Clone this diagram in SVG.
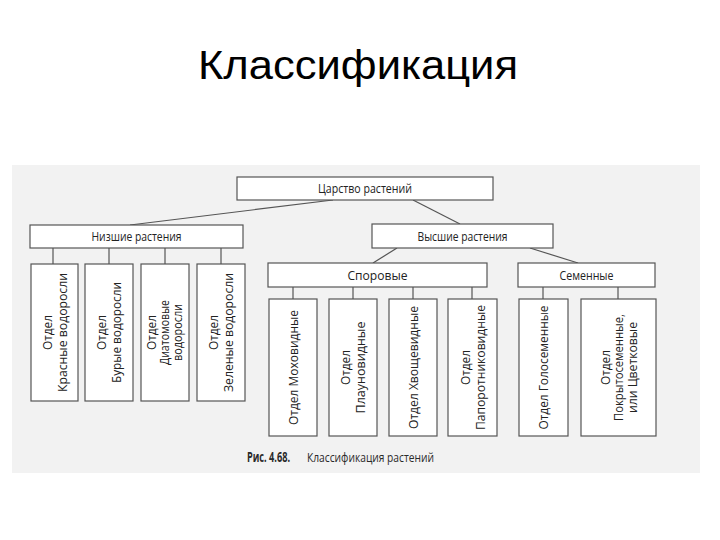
<svg xmlns="http://www.w3.org/2000/svg" width="720" height="540" viewBox="0 0 720 540">
<style>
.box{fill:#ffffff;stroke:#555555;stroke-width:1.2}
.ln{stroke:#555555;stroke-width:1.2;fill:none}
.t{font-family:"Open Sans","DejaVu Sans",sans-serif;font-size:13.5px;fill:#222222;text-anchor:middle}
.title{font-family:"Liberation Sans",Arial,sans-serif;font-size:40px;fill:#000000;text-anchor:middle}
.cap{font-family:"Open Sans","DejaVu Sans",sans-serif;font-size:13.5px;fill:#2a2a2a}
</style>
<rect width="720" height="540" fill="#ffffff"/>
<text class="title" x="358" y="79" textLength="320" lengthAdjust="spacingAndGlyphs">Классификация</text>
<rect x="12" y="165" width="688" height="308" fill="#f2f2f2"/>
<g id="connectors">
<line class="ln" x1="333" y1="200" x2="130" y2="225"/>
<line class="ln" x1="413" y1="200" x2="460" y2="224"/>
<line class="ln" x1="397" y1="248" x2="373" y2="263"/>
<line class="ln" x1="530" y1="248" x2="578" y2="263"/>
<line class="ln" x1="53" y1="248" x2="53" y2="264"/>
<line class="ln" x1="109" y1="248" x2="109" y2="264"/>
<line class="ln" x1="165" y1="248" x2="165" y2="264"/>
<line class="ln" x1="221" y1="248" x2="221" y2="264"/>
<line class="ln" x1="293" y1="287" x2="293" y2="299"/>
<line class="ln" x1="353" y1="287" x2="353" y2="299"/>
<line class="ln" x1="413" y1="287" x2="413" y2="299"/>
<line class="ln" x1="472" y1="287" x2="472" y2="299"/>
<line class="ln" x1="543" y1="287" x2="543" y2="299"/>
<line class="ln" x1="618" y1="287" x2="618" y2="299"/>
</g>
<g id="n-kingdom"><rect class="box" x="237" y="177" width="256" height="23"/><text class="t" x="365" y="193" textLength="94" lengthAdjust="spacingAndGlyphs">Царство растений</text></g>
<g id="n-lower"><rect class="box" x="30" y="225" width="213" height="23"/><text class="t" x="136.5" y="241" textLength="90" lengthAdjust="spacingAndGlyphs">Низшие растения</text></g>
<g id="n-higher"><rect class="box" x="372" y="224" width="181" height="24"/><text class="t" x="462.5" y="240.5" textLength="90" lengthAdjust="spacingAndGlyphs">Высшие растения</text></g>
<g id="n-spore"><rect class="box" x="268" y="263" width="219" height="24"/><text class="t" x="377.5" y="279.5" textLength="60" lengthAdjust="spacingAndGlyphs">Споровые</text></g>
<g id="n-seed"><rect class="box" x="518" y="263" width="137" height="24"/><text class="t" x="586.5" y="279.5" textLength="54" lengthAdjust="spacingAndGlyphs">Семенные</text></g>

<g id="n-red"><rect class="box" x="31" y="264" width="47" height="137"/><text class="t" transform="translate(54.5,332.5) rotate(-90)"><tspan x="0" y="-3" textLength="35" lengthAdjust="spacingAndGlyphs">Отдел</tspan><tspan x="0" y="12" textLength="119" lengthAdjust="spacingAndGlyphs">Красные водоросли</tspan></text></g>
<g id="n-brown"><rect class="box" x="85" y="264" width="48" height="137"/><text class="t" transform="translate(109,332.5) rotate(-90)"><tspan x="0" y="-3" textLength="35" lengthAdjust="spacingAndGlyphs">Отдел</tspan><tspan x="0" y="12" textLength="101" lengthAdjust="spacingAndGlyphs">Бурые водоросли</tspan></text></g>
<g id="n-diatom"><rect class="box" x="141" y="264" width="48" height="137"/><text class="t" transform="translate(165,332.5) rotate(-90)"><tspan x="0" y="-9" textLength="35" lengthAdjust="spacingAndGlyphs">Отдел</tspan><tspan x="0" y="4" textLength="65" lengthAdjust="spacingAndGlyphs">Диатомовые</tspan><tspan x="0" y="17" textLength="57" lengthAdjust="spacingAndGlyphs">водоросли</tspan></text></g>
<g id="n-green"><rect class="box" x="197" y="264" width="48" height="137"/><text class="t" transform="translate(221,332.5) rotate(-90)"><tspan x="0" y="-3" textLength="35" lengthAdjust="spacingAndGlyphs">Отдел</tspan><tspan x="0" y="12" textLength="119" lengthAdjust="spacingAndGlyphs">Зеленые водоросли</tspan></text></g>

<g id="n-moss"><rect class="box" x="269" y="299" width="48" height="137"/><text class="t" transform="translate(293,367.5) rotate(-90)"><tspan x="0" y="4.5" textLength="115" lengthAdjust="spacingAndGlyphs">Отдел Моховидные</tspan></text></g>
<g id="n-club"><rect class="box" x="329" y="299" width="48" height="137"/><text class="t" transform="translate(353,367.5) rotate(-90)"><tspan x="0" y="-3" textLength="35" lengthAdjust="spacingAndGlyphs">Отдел</tspan><tspan x="0" y="12" textLength="92" lengthAdjust="spacingAndGlyphs">Плауновидные</tspan></text></g>
<g id="n-horse"><rect class="box" x="389" y="299" width="48" height="137"/><text class="t" transform="translate(413,367.5) rotate(-90)"><tspan x="0" y="4.5" textLength="123" lengthAdjust="spacingAndGlyphs">Отдел Хвощевидные</tspan></text></g>
<g id="n-fern"><rect class="box" x="448" y="299" width="49" height="137"/><text class="t" transform="translate(472.5,367.5) rotate(-90)"><tspan x="0" y="-3" textLength="35" lengthAdjust="spacingAndGlyphs">Отдел</tspan><tspan x="0" y="12" textLength="125" lengthAdjust="spacingAndGlyphs">Папоротниковидные</tspan></text></g>

<g id="n-gymno"><rect class="box" x="519" y="299" width="49" height="137"/><text class="t" transform="translate(543.5,367.5) rotate(-90)"><tspan x="0" y="4.5" textLength="124" lengthAdjust="spacingAndGlyphs">Отдел Голосеменные</tspan></text></g>
<g id="n-angio"><rect class="box" x="581" y="299" width="75" height="137"/><text class="t" transform="translate(618.5,367.5) rotate(-90)"><tspan x="0" y="-9" textLength="35" lengthAdjust="spacingAndGlyphs">Отдел</tspan><tspan x="0" y="4.5" textLength="107" lengthAdjust="spacingAndGlyphs">Покрытосеменные,</tspan><tspan x="0" y="18" textLength="91" lengthAdjust="spacingAndGlyphs">или Цветковые</tspan></text></g>

<text class="cap" x="247" y="462"><tspan font-weight="bold" textLength="43" lengthAdjust="spacingAndGlyphs">Рис. 4.68.</tspan><tspan x="307" textLength="127" lengthAdjust="spacingAndGlyphs">Классификация растений</tspan></text>
</svg>
